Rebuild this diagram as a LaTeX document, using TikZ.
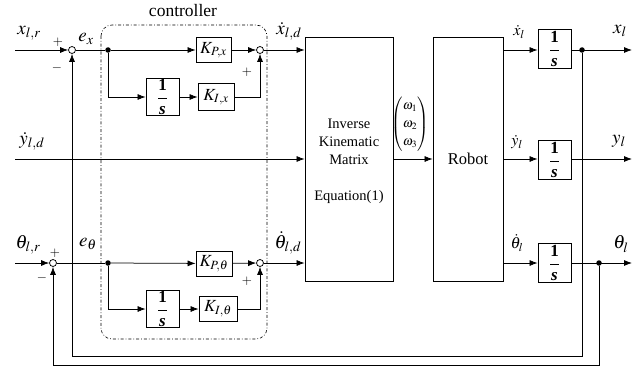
\documentclass[tikz,border=0pt]{standalone}
\usepackage{amsmath}
\usepackage{mathptmx}
\usepackage{fontspec}
\setmainfont{Liberation Serif}
\usetikzlibrary{arrows.meta}

\begin{document}
\begin{tikzpicture}[x=1pt,y=-1pt,
  line width=0.75pt,
  >={Latex[length=8pt,width=6pt]},
  blk/.style={draw, rectangle, inner sep=0pt, line width=0.8pt},
  gain/.style={blk, minimum width=35pt, minimum height=25pt, font=\rmfamily\fontsize{17}{20}\selectfont},
  integ/.style={blk, minimum width=33pt, minimum height=37pt, font=\rmfamily\fontsize{17}{20}\selectfont},
  bigblk/.style={blk, minimum width=88pt, minimum height=244pt},
  sumc/.style={draw, circle, inner sep=0pt, minimum size=7pt, fill=white},
  dotc/.style={circle, fill, inner sep=0pt, minimum size=5.5pt},
  lbl/.style={font=\rmfamily\fontsize{19}{22}\selectfont, inner sep=0pt},
  slbl/.style={font=\rmfamily\fontsize{16}{19}\selectfont, inner sep=0pt},
  sign/.style={font=\rmfamily\fontsize{13}{15}\selectfont, inner sep=0pt},
  txt/.style={font=\rmfamily\fontsize{14.5}{18}\selectfont, align=center, inner sep=0pt},
  ctrl/.style={draw, dash dot, rounded corners=11pt, line width=0.6pt}
]
\useasboundingbox (0,0) rectangle (644,369);

% controller frame
\draw[ctrl] (101,25) rectangle (267,339);
\node[font=\rmfamily\fontsize{17.5}{20}\selectfont, inner sep=0pt] (ctrllbl) at (183,11) {controller};

% ---------------- x channel ----------------
\coordinate (xin) at (15,50);
\node[sumc] (sx) at (72,50) {};
\node[dotc] (bx) at (108,50) {};
\node[gain] (kpx) at (213.5,50) {$K_{P,x}$};
\node[integ] (ix) at (162.5,97) {$\dfrac{\textbf{1}}{\textbf{\textit{s}}}$};
\node[gain, minimum width=36pt, minimum height=27pt] (kix) at (216,97) {$K_{I,x}$};
\node[sumc] (sx2) at (260,50) {};

% ---------------- theta channel ----------------
\coordinate (thin) at (15,263);
\node[sumc] (sth) at (53,263) {};
\node[dotc] (bth) at (108,263) {};
\node[gain, minimum width=36pt] (kpth) at (214,263.5) {$K_{P,\theta}$};
\node[integ] (ith) at (162.5,309) {$\dfrac{\textbf{1}}{\textbf{\textit{s}}}$};
\node[gain, minimum width=38pt] (kith) at (218,309) {$K_{I,\theta}$};
\node[sumc] (sth2) at (260,263) {};

% ---------------- y channel ----------------
\coordinate (yin) at (15,159);

% main blocks
\node[bigblk] (ik) at (349,159) {};
\node[txt] (iktxt) at (349,142) {Inverse\\Kinematic\\Matrix};
\node[txt] (ikeq) at (349,197) {Equation(1)};
\node[bigblk, minimum width=70pt] (rob) at (468,159) {};
\node[font=\rmfamily\fontsize{16.5}{19}\selectfont] (roblbl) at (468,159) {Robot};
\node[font=\rmfamily\fontsize{13}{15}\selectfont, inner sep=0pt] (omega) at (410,124)
  {$\renewcommand{\arraystretch}{1.2}\begin{pmatrix}\omega_1\\ \omega_2\\ \omega_3\end{pmatrix}$};

% output integrators
\node[integ, minimum height=39pt] (ox) at (554.5,49) {$\dfrac{\textbf{1}}{\textbf{\textit{s}}}$};
\node[integ, minimum height=39pt] (oy) at (554.5,160) {$\dfrac{\textbf{1}}{\textbf{\textit{s}}}$};
\node[integ, minimum height=39pt] (oth) at (554.5,263) {$\dfrac{\textbf{1}}{\textbf{\textit{s}}}$};
\node[dotc] (dx) at (582,50) {};
\node[dotc] (dth) at (599,263) {};
\coordinate (xout) at (632,50);
\coordinate (yout) at (632,159);
\coordinate (thout) at (632,263);
\coordinate (fbx) at (72,356);
\coordinate (fbth) at (53,365);

% x channel wiring
\draw[->] (xin) -- (sx);
\draw (sx) -- (bx);
\draw[->] (bx) -- (kpx);
\draw[->] (bx) |- (ix);
\draw[->] (ix) -- (kix);
\draw[->] (kpx) -- (sx2);
\draw[->] (kix) -| (sx2);
\draw[->] (sx2) -- (ik.west |- sx2);

% theta channel wiring
\draw[->] (thin) -- (sth);
\draw (sth) -- (bth);
\draw[->] (bth) -- (kpth);
\draw[->] (bth) |- (ith);
\draw[->] (ith) -- (kith);
\draw[->] (kpth) -- (sth2);
\draw[->] (kith) -| (sth2);
\draw[->] (sth2) -- (ik.west |- sth2);

% y channel
\draw[->] (yin) -- (ik.west |- yin);
\draw[->] (ik.east |- yin) -- (rob.west |- yin);

% robot outputs
\draw[->] (rob.east |- dx) -- (ox.west |- dx);
\draw[->] (rob.east |- yout) -- (oy.west |- yout);
\draw[->] (rob.east |- dth) -- (oth.west |- dth);
\draw[->] (ox.east |- dx) -- (xout);
\draw[->] (oy.east |- yout) -- (yout);
\draw[->] (oth.east |- dth) -- (thout);

% feedback paths
\draw[->] (dx) |- (fbx) -- (sx);
\draw[->] (dth) |- (fbth) -- (sth);

% signal labels
\node[lbl] (lxr) at (29,33) {$x_{l,r}$};
\node[sign] (px) at (58,42) {$+$};
\node[sign] (mx) at (57,68) {$-$};
\node[lbl] (lex) at (86,39) {$e_x$};
\node[lbl] (lxd) at (289,31) {$\dot{x}_{l,d}$};
\node[sign] (px2) at (247,72) {$+$};
\node[lbl] (lyd) at (32,141) {$\dot{y}_{l,d}$};
\node[lbl] (lthr) at (28,245) {$\theta_{l,r}$};
\node[sign] (pth) at (55,253) {$+$};
\node[sign] (mth) at (42,278) {$-$};
\node[lbl] (leth) at (88,244) {$e_\theta$};
\node[lbl] (lthd) at (288,243) {$\dot{\theta}_{l,d}$};
\node[sign] (pth2) at (247,281) {$+$};
\node[slbl] (lxdot) at (519,32) {$\dot{x}_l$};
\node[lbl] (lx) at (620,31) {$x_l$};
\node[slbl] (lydot) at (517,142) {$\dot{y}_l$};
\node[lbl] (ly) at (619,141) {$y_l$};
\node[slbl] (lthdot) at (517,243) {$\dot{\theta}_l$};
\node[lbl] (lth) at (621,244) {$\theta_l$};
\end{tikzpicture}
\end{document}
